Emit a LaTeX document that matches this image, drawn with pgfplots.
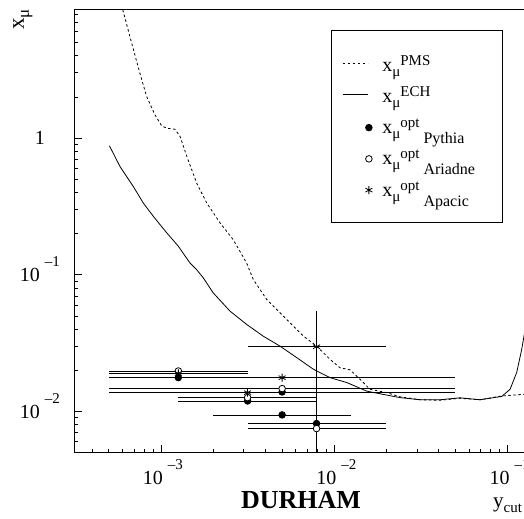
\documentclass[border=0pt]{standalone}
\usepackage{fontspec}
\setmainfont{Liberation Serif}
\usepackage{pgfplots}
\pgfplotsset{compat=1.18}

\newcommand{\expo}[1]{\hspace{5pt}\raisebox{15pt}{\fontsize{15}{15}\selectfont #1}}
\newcommand{\Lsub}[1]{\raisebox{-5pt}{\fontsize{15}{15}\selectfont #1}}
\newcommand{\Lsup}[1]{\raisebox{6pt}{\fontsize{15}{15}\selectfont #1}}
\newcommand{\Lgen}[1]{\hspace{4pt}\raisebox{-10pt}{\fontsize{16}{16}\selectfont #1}}

\begin{document}
\begin{tikzpicture}
\begin{axis}[
  xmode=log, ymode=log,
  scale only axis, width=449.7pt, height=443.7pt,
  xmin=3.1623e-4, xmax=0.1243, ymin=0.005, ymax=8.79,
  axis x line*=box, axis y line*=left,
  tick pos=left, tick align=inside,
  axis line style={line width=1pt, black},
  every tick/.append style={line width=0.8pt, black},
  major tick length=8pt, minor tick length=4pt,
  xtick={1e-3,1e-2,1e-1},
  xticklabels={10\expo{–3},10\expo{–2},10\expo{–1}},
  minor xtick={4e-4,5e-4,6e-4,7e-4,8e-4,9e-4,2e-3,3e-3,4e-3,5e-3,6e-3,7e-3,8e-3,9e-3,2e-2,3e-2,4e-2,5e-2,6e-2,7e-2,8e-2,9e-2},
  ytick={1e-2,1e-1,1},
  yticklabels={10\expo{–2},10\expo{–1},1},
  minor ytick={6e-3,7e-3,8e-3,9e-3,2e-2,3e-2,4e-2,5e-2,6e-2,7e-2,8e-2,9e-2,0.2,0.3,0.4,0.5,0.6,0.7,0.8,0.9,2,3,4,5,6,7,8},
  xticklabel style={font=\fontsize{20}{20}\selectfont, anchor=base, yshift=-31.5pt, xshift=2pt, inner sep=0pt},
  yticklabel style={font=\fontsize{20}{20}\selectfont, anchor=base, xshift=-34.3pt, yshift=-6.8pt, inner sep=0pt},
  xlabel={y\Lsub{cut}},
  xlabel style={at={(axis description cs:0.931,-0.12238)}, anchor=base west, inner sep=0pt, font=\fontsize{21}{21}\selectfont},
  ylabel={x\raisebox{-5pt}{\fontsize{17}{17}\selectfont μ}},
  ylabel style={at={(axis description cs:-0.11185,0.95267)}, anchor=base west, inner sep=0pt, font=\fontsize{23}{23}\selectfont},
  title={DURHAM},
  title style={at={(axis description cs:0.504,-0.12463)}, anchor=base, yshift=-6pt, inner sep=0pt, font=\fontsize{26}{26}\selectfont\bfseries},
  legend style={at={(0.5708,0.9527)}, anchor=north west, draw=black, line width=1pt,
    inner xsep=11pt, inner ysep=18pt, font=\fontsize{20}{24}\selectfont, column sep=10pt, row sep=0pt,
    cells={anchor=west},
    nodes={inner sep=0pt, text height=22.6pt, text depth=8.65pt, text width=109pt, align=left}},
]
\coordinate (SW) at (rel axis cs:0,0);
\coordinate (NE) at (rel axis cs:1,1);

% PMS (dashed)
\addplot[black, line width=0.8pt, dash pattern=on 2.5pt off 2.5pt,
  legend image code/.code={\draw[black,line width=0.8pt,dash pattern=on 2.5pt off 2.5pt] (0pt,1pt)--(25pt,1pt);}]
coordinates {
(5.8e-4,10.2) (6.01e-4,8.74) (6.78e-4,4.94) (7.56e-4,2.98) (8.27e-4,2.01)
(9.23e-4,1.48) (1.009e-3,1.23) (1.079e-3,1.18) (1.205e-3,1.16) (1.288e-3,1.03)
(1.41e-3,0.734) (1.607e-3,0.469) (1.835e-3,0.336) (2.19e-3,0.240) (2.61e-3,0.181)
(3.12e-3,0.122) (3.41e-3,0.0924) (4.07e-3,0.0661) (5.31e-3,0.0472) (6.62e-3,0.0357)
(7.91e-3,0.0301) (9.44e-3,0.0241) (1.079e-2,0.0209) (1.232e-2,0.0202) (1.408e-2,0.0172)
(1.606e-2,0.01455) (2.005e-2,0.01376) (2.39e-2,0.01282) (3.12e-2,0.0122) (4.07e-2,0.01209)
(5.31e-2,0.0125) (6.93e-2,0.0122) (9.25e-2,0.0130) (0.1243,0.01337) (0.13,0.0134)
};
\addlegendentry{x\Lsub{μ}\Lsup{PMS}}

% ECH (solid)
\addplot[black, line width=0.8pt,
  legend image code/.code={\draw[black,line width=0.8pt] (0pt,1pt)--(25pt,1pt);}]
coordinates {
(5.04e-4,0.879) (5.80e-4,0.620) (6.92e-4,0.443) (7.91e-4,0.335) (9.03e-4,0.268)
(1.079e-3,0.203) (1.259e-3,0.162) (1.47e-3,0.122) (1.607e-3,0.109) (1.754e-3,0.0951)
(2.0e-3,0.0739) (2.50e-3,0.0543) (3.12e-3,0.0434) (3.89e-3,0.0356) (4.86e-3,0.0301)
(6.07e-3,0.0248) (7.57e-3,0.0204) (9.44e-3,0.0177) (1.18e-2,0.0163) (1.54e-2,0.0141)
(2.005e-2,0.0132) (2.39e-2,0.01265) (3.12e-2,0.0122) (4.07e-2,0.0122) (5.31e-2,0.0126)
(6.93e-2,0.0122) (9.25e-2,0.0129) (0.1033,0.01455) (0.1128,0.0193) (0.1206,0.0285)
(0.1276,0.0434)
};
\addlegendentry{x\Lsub{μ}\Lsup{ECH}}

% Pythia (filled circles)
\addplot[black, only marks, mark=*, mark size=3.3pt, line width=0.8pt,
  legend image code/.code={\draw[black, line width=0.8pt, mark=*, mark size=3.3pt] plot coordinates {(26pt,-1pt)};},
  error bars/.cd, x dir=both, x explicit, y dir=both, y explicit, error mark=none,
  error bar style={line width=0.8pt, black}]
coordinates {
(1.26e-3,0.0177) += (1.9e-3,0) -= (7.6e-4,0)
(3.16e-3,0.01195) += (4.74e-3,0) -= (1.9e-3,0)
(5.0e-3,0.0139) += (4.5e-2,0) -= (4.5e-3,0)
(5.0e-3,0.00945) += (7.5e-3,0) -= (3.0e-3,0)
(7.9e-3,0.00817) += (1.21e-2,0) -= (4.74e-3,0)
};
\addlegendentry{x\Lsub{μ}\Lsup{opt}\Lgen{Pythia}}

% Ariadne (open circles)
\addplot[black, only marks, mark=*, mark size=3.3pt, line width=0.8pt, mark options={fill=white, draw=black},
  legend image code/.code={\draw[black, line width=0.8pt, mark=*, mark size=3.3pt, mark options={fill=white, draw=black}] plot coordinates {(26pt,-1pt)};},
  error bars/.cd, x dir=both, x explicit, y dir=both, y explicit, error mark=none,
  error bar style={line width=0.8pt, black}]
coordinates {
(1.26e-3,0.0198) += (1.9e-3,0) -= (7.6e-4,0)
(3.16e-3,0.01265) += (4.74e-3,0) -= (1.9e-3,0)
(5.0e-3,0.01472) += (4.5e-2,0) -= (4.5e-3,0)
(7.9e-3,0.00751) += (1.21e-2,0) -= (4.74e-3,0)
};
\addlegendentry{x\Lsub{μ}\Lsup{opt}\Lgen{Ariadne}}

% Apacic (asterisks)
\addplot[black, only marks, mark=asterisk, mark size=4pt, line width=0.8pt,
  legend image code/.code={\draw[black, line width=0.8pt, mark=asterisk, mark size=4pt] plot coordinates {(26pt,-1pt)};},
  error bars/.cd, x dir=both, x explicit, y dir=both, y explicit, error mark=none,
  error bar style={line width=0.8pt, black}]
coordinates {
(1.26e-3,0.0190) += (1.9e-3,0) -= (7.6e-4,0)
(3.16e-3,0.01376) += (4.74e-3,0) -= (1.9e-3,0)
(5.0e-3,0.0177) += (4.5e-2,0) -= (4.5e-3,0)
(7.9e-3,0.0298) += (1.21e-2,0.0244) -= (4.74e-3,0.026)
};
\addlegendentry{x\Lsub{μ}\Lsup{opt}\Lgen{Apacic}}
\end{axis}
\pgfresetboundingbox
\path[use as bounding box] ([xshift=-74.3pt,yshift=-65.3pt]SW) rectangle ([yshift=9pt]NE);
\end{tikzpicture}
\end{document}
